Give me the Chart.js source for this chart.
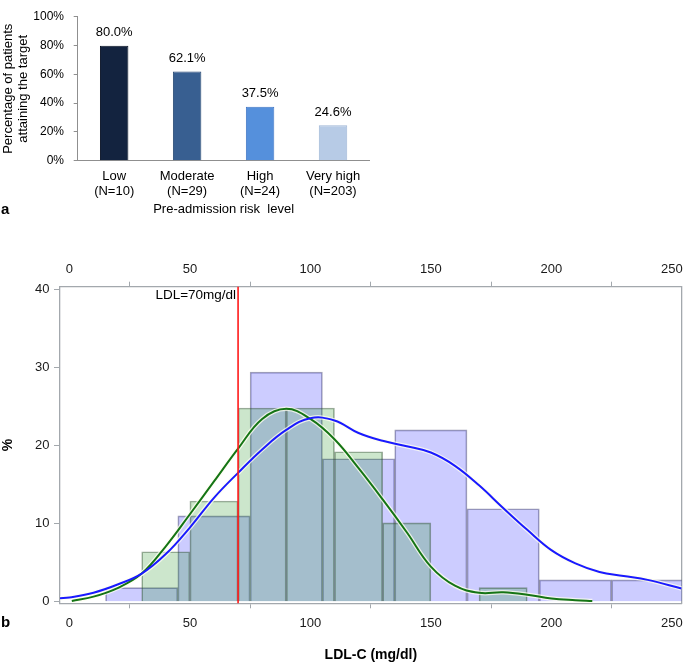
<!DOCTYPE html>
<html><head><meta charset="utf-8">
<script src="https://cdn.jsdelivr.net/npm/chart.js@4.4.1/dist/chart.umd.min.js"></script>
<style>
html,body{margin:0;padding:0;background:#fff;width:685px;height:663px;overflow:hidden;}
#wa{position:absolute;left:0;top:0;width:380px;height:218px;}
#wb{position:absolute;left:0;top:250px;width:685px;height:413px;}
.panel{position:absolute;font:bold 15px "Liberation Sans",Arial,sans-serif;color:#000;line-height:17px;}
</style></head><body>
<div id="wa"><canvas id="ca" width="380" height="218"></canvas></div>
<div id="wb"><canvas id="cb" width="685" height="413"></canvas></div>
<div class="panel" style="left:1px;top:200px">a</div>
<div class="panel" style="left:1px;top:613px">b</div>
<script>
// ---------- Panel a data ----------
const riskLevels = ['Low', 'Moderate', 'High', 'Very high'];
const riskN = [10, 29, 24, 203];
const targetPct = [80.0, 62.1, 37.5, 24.6];
const pctAxisTicks = [0, 20, 40, 60, 80, 100];

// ---------- Panel b data ----------
const ldlTicks = [0, 50, 100, 150, 200, 250];
const pctTicks = [0, 10, 20, 30, 40];
const ldlTarget = 70;
// histogram 1 (blue), bins of 30 mg/dl, centers
const blueBinCenters = [30, 60, 90, 120, 150, 180, 210, 240];
const blueBinPct = [1.8, 11.0, 29.4, 18.3, 22.0, 11.9, 2.8, 2.8];
// histogram 2 (green), bins of 20 mg/dl, centers
const greenBinCenters = [40, 60, 80, 100, 120, 140, 160, 180];
const greenBinPct = [6.4, 12.9, 24.8, 24.8, 19.2, 10.1, 0, 1.8];
// density curves
const blueDensX = [-4, 0, 10, 20, 30, 40, 50, 60, 70, 80, 90, 100, 110, 120, 130, 140, 150, 160, 170, 180, 190, 200, 210, 220, 230, 240, 254];
const blueDensY = [0.44, 0.55, 1.15, 2.2, 3.6, 6.1, 9.5, 13.3, 16.5, 19.5, 22.0, 23.5, 23.2, 21.6, 20.6, 19.9, 19.1, 17.4, 14.9, 12.0, 9.2, 6.6, 4.9, 3.8, 3.3, 2.8, 1.7];
const greenDensX = [1, 10, 20, 30, 40, 50, 60, 70, 80, 90, 100, 110, 120, 130, 140, 150, 160, 170, 180, 190, 200, 210, 217];
const greenDensY = [0.1, 0.65, 1.75, 3.6, 7.1, 11.2, 15.4, 19.6, 23.4, 24.7, 23.4, 20.8, 17.1, 13.1, 8.9, 4.5, 2.05, 1.15, 1.2, 0.9, 0.42, 0.2, 0.1];

const FONT = '"Liberation Sans", Arial, sans-serif';
Chart.defaults.font.family = FONT;
Chart.defaults.color = '#000';

// ---------- Chart a ----------
const barFill = ['#13233f', '#385f91', '#5590dc', '#b7cbe6'];
const barEdge = ['#0a1426', '#2a4a74', '#3f75c4', '#9fb6d6'];

const barLabelPlugin = {
  id: 'barLabels',
  afterDatasetsDraw(chart) {
    const ctx = chart.ctx;
    const meta = chart.getDatasetMeta(0);
    ctx.save();
    ctx.font = '13px ' + FONT;
    ctx.fillStyle = '#000';
    ctx.textAlign = 'center';
    ctx.textBaseline = 'middle';
    meta.data.forEach((bar, i) => {
      ctx.fillText(targetPct[i].toFixed(1) + '%', bar.x, bar.y - 13);
    });
    ctx.restore();
  }
};

new Chart(document.getElementById('ca'), {
  type: 'bar',
  data: {
    labels: riskLevels.map((l, i) => [l, '(N=' + riskN[i] + ')']),
    datasets: [{
      data: targetPct,
      backgroundColor: barFill,
      borderColor: barEdge,
      borderWidth: 1,
      categoryPercentage: 1,
      barPercentage: 0.39
    }]
  },
  options: {
    responsive: false,
    animation: false,
    layout: { padding: { left: 0, right: 10.5, top: 6.7, bottom: 0 } },
    plugins: { legend: { display: false }, tooltip: { enabled: false } },
    scales: {
      x: {
        grid: { display: false, drawTicks: false },
        border: { display: true, color: '#8f8f8f', width: 1 },
        ticks: { font: { size: 13, lineHeight: 1.15 }, color: '#000', padding: 7.8, maxRotation: 0 },
        title: { display: true, text: 'Pre-admission risk  level', font: { size: 13, lineHeight: 1.15 }, color: '#000', padding: { top: 0, bottom: 1 } },
        afterFit: s => { s.height = 218 - 160.7; s.paddingLeft = 0; s.paddingRight = 0; }
      },
      y: {
        min: 0, max: 100,
        afterBuildTicks: s => { s.ticks = pctAxisTicks.map(v => ({ value: v })); },
        grid: { display: true, drawOnChartArea: false, drawTicks: true, tickLength: 4, color: '#8f8f8f' },
        border: { display: true, color: '#8f8f8f', width: 1 },
        ticks: { font: { size: 12 }, color: '#000', padding: 9.7, callback: v => v + '%' },
        title: { display: true, text: ['Percentage of patients', 'attaining the target'], font: { size: 13, lineHeight: 1.15 }, color: '#000', padding: { top: 0.5, bottom: 0 } },
        afterFit: s => { s.width = 77.7; }
      }
    }
  },
  plugins: [barLabelPlugin]
});

// ---------- Chart b ----------
const X_MIN = -3.9, X_MAX = 254.1, Y_MIN = -0.2, Y_MAX = 40.33;
const AXIS_GRAY = '#a3a8ad';

const refLinePlugin = {
  id: 'refLine',
  afterDatasetsDraw(chart) {
    const { ctx, chartArea } = chart;
    const xs = chart.scales.x;
    const px = xs.getPixelForValue(ldlTarget);
    ctx.save();
    ctx.strokeStyle = '#ff1a1a';
    ctx.lineWidth = 1.6;
    ctx.beginPath();
    ctx.moveTo(px, chartArea.top);
    ctx.lineTo(px, chartArea.bottom);
    ctx.stroke();
    ctx.font = '13.5px ' + FONT;
    ctx.fillStyle = '#000';
    ctx.textAlign = 'right';
    ctx.textBaseline = 'middle';
    ctx.fillText('LDL=' + ldlTarget + 'mg/dl', px - 2, chartArea.top + 9);
    ctx.restore();
  }
};

const ldlAxisCommon = {
  type: 'linear', min: X_MIN, max: X_MAX, offset: false,
  afterBuildTicks: s => { s.ticks = ldlTicks.map(v => ({ value: v })); }
};
const noPad = s => { s.paddingLeft = 0; s.paddingRight = 0; };

const curve = (xs, ys) => xs.map((x, i) => ({ x, y: ys[i] }));

new Chart(document.getElementById('cb'), {
  type: 'bar',
  data: {
    datasets: [
      {
        type: 'line', label: 'density blue',
        data: curve(blueDensX, blueDensY),
        xAxisID: 'x', yAxisID: 'y',
        borderColor: '#1a1aff', borderWidth: 2, pointRadius: 0,
        tension: 0.4, fill: false, order: 0
      },
      {
        type: 'line', label: 'density green',
        data: curve(greenDensX, greenDensY),
        xAxisID: 'x', yAxisID: 'y',
        borderColor: '#157515', borderWidth: 2, pointRadius: 0,
        tension: 0.4, fill: false, order: 0
      },
      {
        type: 'line', label: 'halo blue',
        data: curve(blueDensX, blueDensY),
        xAxisID: 'x', yAxisID: 'y',
        borderColor: 'rgba(255,255,240,0.75)', borderWidth: 4.5, pointRadius: 0,
        tension: 0.4, fill: false, order: 1
      },
      {
        type: 'line', label: 'halo green',
        data: curve(greenDensX, greenDensY),
        xAxisID: 'x', yAxisID: 'y',
        borderColor: 'rgba(255,255,240,0.75)', borderWidth: 4.5, pointRadius: 0,
        tension: 0.4, fill: false, order: 1
      },
      {
        type: 'bar', label: 'hist green',
        data: curve(greenBinCenters, greenBinPct),
        xAxisID: 'xg', yAxisID: 'y', grouped: false,
        backgroundColor: 'rgba(0,128,0,0.2)', borderColor: 'rgba(40,70,40,0.45)', borderWidth: 1,
        barPercentage: 1, categoryPercentage: 1, order: 2
      },
      {
        type: 'bar', label: 'hist blue',
        data: curve(blueBinCenters, blueBinPct),
        xAxisID: 'x', yAxisID: 'y', grouped: false,
        backgroundColor: 'rgba(0,0,255,0.2)', borderColor: 'rgba(50,50,90,0.45)', borderWidth: 1,
        barPercentage: 1, categoryPercentage: 1, order: 3
      }
    ]
  },
  options: {
    responsive: false,
    animation: false,
    layout: { padding: { left: 0, right: 3.3, top: 0, bottom: 0 } },
    plugins: { legend: { display: false }, tooltip: { enabled: false } },
    scales: {
      x: Object.assign({}, ldlAxisCommon, {
        position: 'bottom',
        grid: { display: true, drawOnChartArea: false, drawTicks: true, tickLength: 5, color: AXIS_GRAY },
        border: { display: true, color: AXIS_GRAY, width: 1.3 },
        ticks: { font: { size: 13, lineHeight: 1.15 }, color: '#1a1a1a', padding: 7.5, maxRotation: 0 },
        title: { display: true, text: 'LDL-C (mg/dl)', font: { size: 14, weight: 'bold', lineHeight: 1.15 }, color: '#000', padding: { top: 0, bottom: 0 } },
        afterFit: s => { s.height = 413 - 353.3; noPad(s); }
      }),
      xg: Object.assign({}, ldlAxisCommon, { position: 'bottom', display: false, afterFit: noPad }),
      xTop: Object.assign({}, ldlAxisCommon, {
        position: 'top',
        grid: { display: true, drawOnChartArea: false, drawTicks: true, tickLength: 5, color: AXIS_GRAY },
        border: { display: true, color: AXIS_GRAY, width: 1.3 },
        ticks: { font: { size: 13, lineHeight: 1.15 }, color: '#1a1a1a', padding: 5.2, maxRotation: 0 },
        afterFit: s => { s.height = 36.7; noPad(s); }
      }),
      y: {
        type: 'linear', position: 'left', min: Y_MIN, max: Y_MAX,
        afterBuildTicks: s => { s.ticks = pctTicks.map(v => ({ value: v })); },
        grid: { display: true, drawOnChartArea: false, drawTicks: true, tickLength: 6, color: AXIS_GRAY },
        border: { display: true, color: AXIS_GRAY, width: 1.3 },
        ticks: { font: { size: 13 }, color: '#1a1a1a', padding: 4.5 },
        title: { display: true, text: '%', font: { size: 14, weight: 'bold', lineHeight: 1.15 }, color: '#000', padding: { top: 0, bottom: 0 } },
        afterFit: s => { s.width = 60; }
      },
      yR: {
        type: 'linear', position: 'right', min: Y_MIN, max: Y_MAX,
        grid: { display: false, drawTicks: false },
        border: { display: true, color: AXIS_GRAY, width: 1.3 },
        ticks: { display: false },
        afterFit: s => { s.width = 0; }
      }
    }
  },
  plugins: [refLinePlugin]
});
</script>
</body></html>
